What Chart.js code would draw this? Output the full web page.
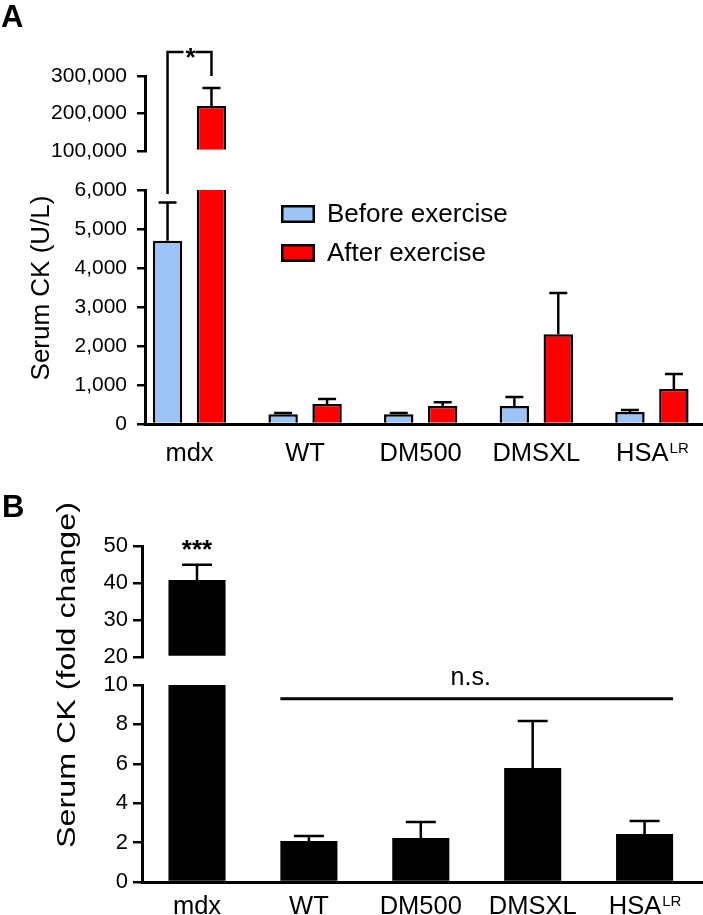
<!DOCTYPE html>
<html>
<head>
<meta charset="utf-8">
<script src="https://cdn.jsdelivr.net/npm/chart.js@4.4.1/dist/chart.umd.min.js"></script>
<style>
    html, body { margin: 0; padding: 0; background: #fff; }
    #painel { position: relative; width: 703px; height: 915px; }
    canvas { position: absolute; left: 0; }
    #graficoA { top: 0; }
    #graficoB { top: 470px; }
</style>
</head>
<body>
<div id="painel">
    <canvas id="graficoA" width="703" height="470"></canvas>
    <canvas id="graficoB" width="703" height="445"></canvas>
</div>
<script>
// categorias (eixo x)
const grupos = ['mdx', 'WT', 'DM500', 'DMSXL', 'HSA'];
const sobrescritos = ['', '', '', '', 'LR'];

// painel A - Serum CK (U/L), media e erro
const antesExercicio = [4700, 250, 250, 460, 310];
const antesErro = [980, 30, 30, 230, 50];
const depoisExercicio = [220000, 510, 460, 2300, 900];
const depoisErro = [48000, 130, 100, 1060, 380];
const ticksA_baixo = [0, 1000, 2000, 3000, 4000, 5000, 6000];
const ticksA_cima = [100000, 200000, 300000];
// colchete do * (valores no eixo)
const colcheteA = { esquerda: 5900, topo: 364000, direita: 300000 };

// painel B - fold change
const foldChange = [40.8, 2.08, 2.23, 5.79, 2.44];
const foldErro = [4.1, 0.26, 0.82, 2.38, 0.66];
const ticksB_baixo = [0, 2, 4, 6, 8, 10];
const ticksB_cima = [20, 30, 40, 50];
const nivelNS = 9.3;

const FONTE = "'Liberation Sans', Arial, Helvetica, sans-serif";
Chart.defaults.font.family = FONTE;
Chart.defaults.color = '#000';

function escalaY(ticks, peso, ordem, tamFonte, pad, tick, largura) {
    return {
        type: 'linear',
        position: 'left',
        stack: 'ck',
        stackWeight: peso,
        weight: ordem,
        stacked: false,
        min: ticks[0],
        max: ticks[ticks.length - 1],
        afterFit: (s) => { s.width = largura; },
        afterBuildTicks: (s) => { s.ticks = ticks.map(v => ({ value: v })); },
        ticks: { autoSkip: false, font: { size: tamFonte }, padding: pad, color: '#000' },
        grid: { display: true, drawOnChartArea: false, drawTicks: true, tickLength: tick, color: '#000', lineWidth: 2.5 },
        border: { display: true, color: '#000', width: 3 }
    };
}

function escalaVao(peso, largura) {
    return {
        type: 'linear',
        position: 'left',
        stack: 'ck',
        stackWeight: peso,
        weight: 2,
        afterFit: (s) => { s.width = largura; },
        ticks: { display: false },
        grid: { display: false, drawTicks: false },
        border: { display: false }
    };
}

function escalaX(min, max) {
    return {
        type: 'linear',
        min: min,
        max: max,
        offset: false,
        afterBuildTicks: (s) => { s.ticks = grupos.map((g, i) => ({ value: i })); },
        ticks: { display: false },
        grid: { display: false, drawTicks: false },
        border: { display: true, color: '#000', width: 3 }
    };
}

// barras de erro (so a parte de cima)
const pluginErro = {
    id: 'barrasErro',
    afterDatasetsDraw(chart, args, opts) {
        const ctx = chart.ctx;
        ctx.save();
        ctx.strokeStyle = '#000';
        ctx.lineWidth = opts.espessura;
        chart.data.datasets.forEach((ds, d) => {
            if (!ds.erro) return;
            const meta = chart.getDatasetMeta(d);
            const esc = chart.scales[ds.yAxisID];
            meta.data.forEach((barra, i) => {
                if (ds.data[i] === null || ds.valores[i] > esc.max) return;
                const topo = esc.getPixelForValue(ds.valores[i] + ds.erro[i]);
                ctx.beginPath();
                ctx.moveTo(barra.x, barra.y);
                ctx.lineTo(barra.x, topo);
                ctx.moveTo(barra.x - opts.capa / 2, topo);
                ctx.lineTo(barra.x + opts.capa / 2, topo);
                ctx.stroke();
            });
        });
        ctx.restore();
    }
};

// letra do painel, titulo do eixo y e rotulos do eixo x
const pluginTextos = {
    id: 'textos',
    afterDraw(chart, args, o) {
        const ctx = chart.ctx;
        ctx.save();
        ctx.fillStyle = '#000';
        ctx.textBaseline = 'alphabetic';

        ctx.font = `bold ${o.letra.tam}px ${FONTE}`;
        ctx.textAlign = 'left';
        ctx.fillText(o.letra.texto, o.letra.x, o.letra.y);

        ctx.save();
        ctx.translate(o.titulo.x, o.titulo.y);
        ctx.rotate(-Math.PI / 2);
        ctx.scale(o.titulo.esticar || 1, 1);
        ctx.font = `${o.titulo.tam}px ${FONTE}`;
        ctx.textAlign = 'center';
        ctx.textBaseline = 'middle';
        ctx.fillText(o.titulo.texto, 0, 0);
        ctx.restore();

        const escX = chart.scales.x;
        grupos.forEach((g, i) => {
            const x = escX.getPixelForValue(i);
            ctx.font = `${o.rotulos.tam}px ${FONTE}`;
            const w1 = ctx.measureText(g).width;
            ctx.font = `${o.rotulos.tamSup}px ${FONTE}`;
            const w2 = sobrescritos[i] ? ctx.measureText(sobrescritos[i]).width : 0;
            const x0 = x - (w1 + w2) / 2;
            ctx.textAlign = 'left';
            ctx.font = `${o.rotulos.tam}px ${FONTE}`;
            ctx.fillText(g, x0, o.rotulos.y);
            if (sobrescritos[i]) {
                ctx.font = `${o.rotulos.tamSup}px ${FONTE}`;
                ctx.fillText(sobrescritos[i], x0 + w1 + 1, o.rotulos.y - 8);
            }
        });
        ctx.restore();
    }
};

// legenda e colchete do painel A
const pluginAnotacoesA = {
    id: 'anotacoesA',
    afterDraw(chart) {
        const ctx = chart.ctx;
        ctx.save();
        ctx.strokeStyle = '#000';
        ctx.fillStyle = '#000';
        ctx.lineWidth = 2.5;

        const itens = chart.data.datasets.filter(ds => ds.legenda !== false);
        itens.forEach((ds, k) => {
            const y = 205 + k * 39;
            ctx.fillStyle = ds.backgroundColor;
            ctx.fillRect(281, y, 34, 18);
            ctx.strokeRect(282.25, y + 1.25, 31.5, 15.5);
            ctx.fillStyle = '#000';
            ctx.font = `26px ${FONTE}`;
            ctx.textAlign = 'left';
            ctx.fillText(ds.label, 327, y + 17);
        });

        const yB = chart.scales.yBaixo;
        const yC = chart.scales.yCima;
        const xe = chart.getDatasetMeta(0).data[0].x;
        const xd = chart.getDatasetMeta(2).data[0].x;
        const xm = (xe + xd) / 2;
        const yTopo = yC.getPixelForValue(colcheteA.topo);
        ctx.beginPath();
        ctx.moveTo(xe, yB.getPixelForValue(colcheteA.esquerda));
        ctx.lineTo(xe, yTopo);
        ctx.lineTo(xm - 6, yTopo);
        ctx.moveTo(xm + 6, yTopo);
        ctx.lineTo(xd, yTopo);
        ctx.lineTo(xd, yC.getPixelForValue(colcheteA.direita));
        ctx.stroke();
        ctx.font = `bold 26px ${FONTE}`;
        ctx.textAlign = 'center';
        ctx.fillText('*', xm + 1, yTopo + 14);
        ctx.restore();
    }
};

// *** e n.s. do painel B
const pluginAnotacoesB = {
    id: 'anotacoesB',
    afterDraw(chart) {
        const ctx = chart.ctx;
        ctx.save();
        ctx.fillStyle = '#000';
        ctx.strokeStyle = '#000';
        const yB = chart.scales.yBaixo;
        const yC = chart.scales.yCima;
        const mdx = chart.getDatasetMeta(1).data[0];
        const topoErro = yC.getPixelForValue(foldChange[0] + foldErro[0]);
        ctx.font = `bold 26px ${FONTE}`;
        ctx.textAlign = 'center';
        ctx.fillText('***', mdx.x, topoErro - 7);

        const barras = chart.getDatasetMeta(0).data;
        const x1 = barras[1].x - barras[1].width / 2;
        const x2 = barras[4].x + barras[4].width / 2;
        const y = yB.getPixelForValue(nivelNS);
        ctx.lineWidth = 3;
        ctx.beginPath();
        ctx.moveTo(x1, y);
        ctx.lineTo(x2, y);
        ctx.stroke();
        ctx.font = `25px ${FONTE}`;
        ctx.fillText('n.s.', (x1 + x2) / 2 - 6, y - 14);
        ctx.restore();
    }
};

let graficoA = 0;
let graficoB = 0;

function criarGraficoA(canvaId) {
    if (graficoA !== 0) graficoA.destroy();
    const maxBaixo = ticksA_baixo[ticksA_baixo.length - 1];

    const data = {
        labels: grupos.map((g, i) => i),
        datasets: [{
                label: 'Before exercise',
                data: antesExercicio,
                valores: antesExercicio,
                erro: antesErro,
                yAxisID: 'yBaixo',
                stack: 'antes',
                backgroundColor: '#9ec3f5',
                borderColor: '#000',
                borderWidth: 2.5
            },
            {
                label: 'After exercise',
                data: depoisExercicio.map(v => Math.min(v, maxBaixo)),
                valores: depoisExercicio,
                erro: depoisErro,
                yAxisID: 'yBaixo',
                stack: 'depois',
                backgroundColor: '#ff0000',
                borderColor: '#000',
                borderWidth: (c) => (c.raw >= maxBaixo ? { top: 0, left: 2.5, right: 2.5, bottom: 0 } : 2.5)
            },
            {
                label: 'After exercise',
                legenda: false,
                data: depoisExercicio.map(v => (v > maxBaixo ? v : null)),
                valores: depoisExercicio,
                erro: depoisErro,
                yAxisID: 'yCima',
                stack: 'depois',
                base: ticksA_cima[0],
                backgroundColor: '#ff0000',
                borderColor: '#000',
                borderWidth: 2.5
            }
        ]
    };

    const config = {
        type: 'bar',
        data: data,
        options: {
            responsive: false,
            animation: false,
            locale: 'en-US',
            categoryPercentage: 0.76,
            barPercentage: 0.67,
            layout: { padding: { top: 76, bottom: 46, left: 0, right: 0 } },
            scales: {
                x: escalaX(-0.385, 4.442),
                yCima: escalaY(ticksA_cima, 75, 3, 21, 10, 8, 145),
                yVao: escalaVao(39, 145),
                yBaixo: escalaY(ticksA_baixo, 234, 1, 21, 10, 8, 145)
            },
            plugins: {
                legend: { display: false },
                tooltip: { enabled: false },
                barrasErro: { capa: 18, espessura: 2.5 },
                textos: {
                    letra: { texto: 'A', x: 1, y: 27, tam: 31 },
                    titulo: { texto: 'Serum CK (U/L)', x: 42, y: 288, tam: 26 },
                    rotulos: { y: 461, tam: 25.5, tamSup: 15 }
                }
            }
        },
        plugins: [pluginErro, pluginTextos, pluginAnotacoesA]
    };

    graficoA = new Chart(document.getElementById(`${canvaId}`), config);
}

function criarGraficoB(canvaId) {
    if (graficoB !== 0) graficoB.destroy();
    const maxBaixo = ticksB_baixo[ticksB_baixo.length - 1];

    const config = {
        type: 'bar',
        data: {
            labels: grupos.map((g, i) => i),
            datasets: [{
                    label: 'Fold change',
                    data: foldChange.map(v => Math.min(v, maxBaixo)),
                    valores: foldChange,
                    erro: foldErro,
                    yAxisID: 'yBaixo',
                    stack: 'fc',
                    backgroundColor: '#000',
                    borderWidth: 0
                },
                {
                    label: 'Fold change',
                    data: foldChange.map(v => (v > maxBaixo ? v : null)),
                    valores: foldChange,
                    erro: foldErro,
                    yAxisID: 'yCima',
                    stack: 'fc',
                    base: ticksB_cima[0],
                    backgroundColor: '#000',
                    borderWidth: 0
                }
            ]
        },
        options: {
            responsive: false,
            animation: false,
            locale: 'en-US',
            categoryPercentage: 1,
            barPercentage: 0.51,
            layout: { padding: { top: 76, bottom: 33, left: 0, right: 0 } },
            scales: {
                x: escalaX(-0.4915, 4.522),
                yCima: escalaY(ticksB_cima, 111, 3, 22, 5, 9, 142),
                yVao: escalaVao(28, 142),
                yBaixo: escalaY(ticksB_baixo, 197, 1, 22, 5, 9, 142)
            },
            plugins: {
                legend: { display: false },
                tooltip: { enabled: false },
                barrasErro: { capa: 30, espessura: 2.5 },
                textos: {
                    letra: { texto: 'B', x: 2, y: 47, tam: 31 },
                    titulo: { texto: 'Serum CK (fold change)', x: 68, y: 205, tam: 26, esticar: 1.24 },
                    rotulos: { y: 444, tam: 25.5, tamSup: 15 }
                }
            }
        },
        plugins: [pluginErro, pluginTextos, pluginAnotacoesB]
    };

    graficoB = new Chart(document.getElementById(`${canvaId}`), config);
}

criarGraficoA('graficoA');
criarGraficoB('graficoB');
</script>
</body>
</html>
